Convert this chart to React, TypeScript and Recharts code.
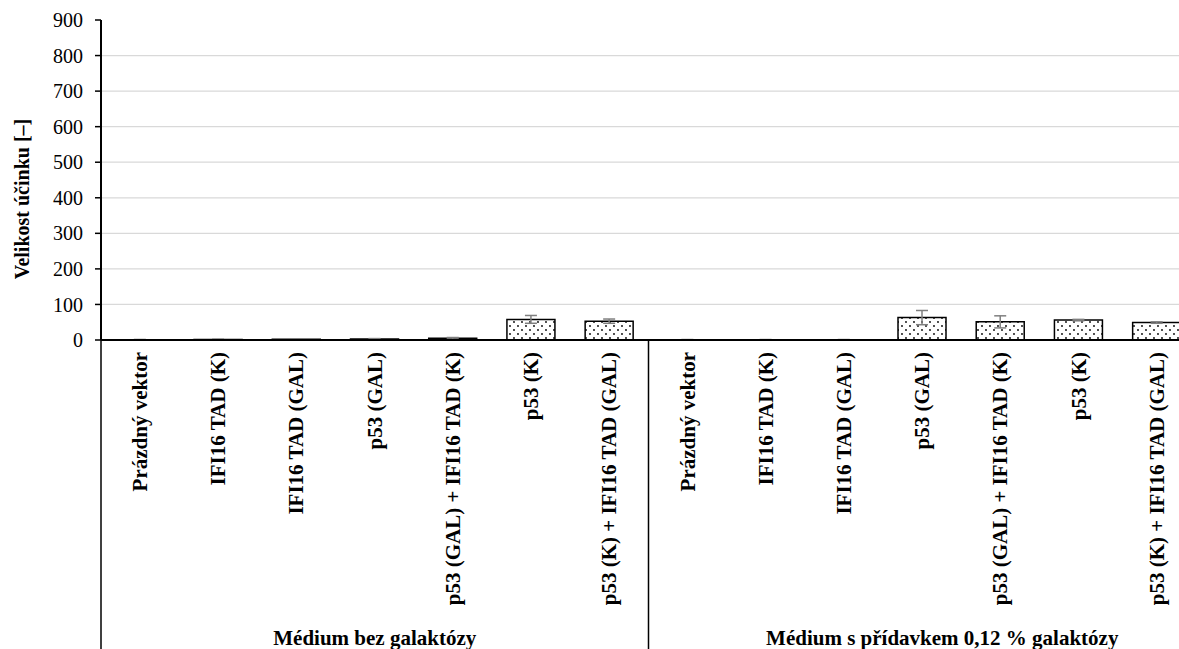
import React from 'react';
import { BarChart, Bar, XAxis, YAxis, CartesianGrid, ErrorBar } from 'recharts';

const categories = [
  'Prázdný vektor', 'IFI16 TAD (K)', 'IFI16 TAD (GAL)', 'p53 (GAL)',
  'p53 (GAL) + IFI16 TAD (K)', 'p53 (K)', 'p53 (K) + IFI16 TAD (GAL)',
  'Prázdný vektor', 'IFI16 TAD (K)', 'IFI16 TAD (GAL)', 'p53 (GAL)',
  'p53 (GAL) + IFI16 TAD (K)', 'p53 (K)', 'p53 (K) + IFI16 TAD (GAL)',
];
const groups = [
  'Médium bez galaktózy', 'Médium bez galaktózy', 'Médium bez galaktózy', 'Médium bez galaktózy',
  'Médium bez galaktózy', 'Médium bez galaktózy', 'Médium bez galaktózy',
  'Médium s přídavkem 0,12 % galaktózy', 'Médium s přídavkem 0,12 % galaktózy',
  'Médium s přídavkem 0,12 % galaktózy', 'Médium s přídavkem 0,12 % galaktózy',
  'Médium s přídavkem 0,12 % galaktózy', 'Médium s přídavkem 0,12 % galaktózy',
  'Médium s přídavkem 0,12 % galaktózy',
];
const values = [1, 1.5, 2, 3, 5, 58, 53, 1, 1, 1, 63, 51, 56, 49];
const errors = [0.5, 0.5, 0.5, 1, 2, 11, 6, 0.3, 0.3, 0.3, 20, 17, 2, 2];
const yTicks = [0, 100, 200, 300, 400, 500, 600, 700, 800, 900];
const gridValues = [100, 200, 300, 400, 500, 600, 700, 800];
const yLabel = 'Velikost účinku [–]';

const data = categories.map((c, i) => ({
  key: `c${i}`,
  name: c,
  group: groups[i],
  value: values[i],
  err: errors[i],
}));

const FONT = 'Liberation Serif';
const GROUP_LABEL_DX = [0, 20];

const CategoryTick = (props: any) => {
  const { x, y, payload, index } = props;
  const half = payload && payload.offset ? payload.offset : 39.1;
  const label = categories[index];
  const isGroupStart = index === 0 || index === 7;
  return (
    <g>
      {isGroupStart && (
        <line x1={x - half} y1={y} x2={x - half} y2={y + 400} stroke="#000" strokeWidth={1.5} />
      )}
      <text
        transform={`translate(${x},${y + 12}) rotate(-90)`}
        textAnchor="end"
        dy="0.33em"
        fontFamily={FONT}
        fontWeight="bold"
        fontSize={21}
        fill="#000"
      >
        {label}
      </text>
    </g>
  );
};

const GroupTick = (props: any) => {
  const { x, y, payload, index } = props;
  return (
    <text
      x={x + (GROUP_LABEL_DX[index] || 0)}
      y={y + 15}
      textAnchor="middle"
      fontFamily={FONT}
      fontWeight="bold"
      fontSize={21}
      fill="#000"
    >
      {payload.value}
    </text>
  );
};

const YLabel = (props: any) => {
  const { viewBox } = props;
  const cx = viewBox.x + 29;
  const cy = viewBox.y + viewBox.height / 2 + 19;
  return (
    <text
      transform={`translate(${cx},${cy}) rotate(-90)`}
      textAnchor="middle"
      fontFamily={FONT}
      fontWeight="bold"
      fontSize={20}
      fill="#000"
    >
      {yLabel}
    </text>
  );
};

export default function App() {
  return (
    <div style={{ position: 'absolute', left: 0, top: 0, width: 1179, height: 649, overflow: 'hidden', background: '#fff' }}>
      <BarChart
        width={1210}
        height={665}
        data={data}
        margin={{ top: 20, right: 14, bottom: 0, left: 0 }}
        barCategoryGap="19%"
      >
        <defs>
          <pattern id="dots" width="8" height="8" patternUnits="userSpaceOnUse">
            <rect width="8" height="8" fill="#fff" />
            <circle cx="2" cy="2" r="0.9" fill="#000" />
            <circle cx="6" cy="6" r="0.9" fill="#000" />
          </pattern>
        </defs>
        <CartesianGrid vertical={false} horizontalValues={gridValues} stroke="#d9d9d9" strokeWidth={1.3} />
        <XAxis
          dataKey="key"
          xAxisId="cat"
          height={290}
          interval={0}
          tickLine={false}
          tickSize={0}
          tickMargin={0}
          axisLine={{ stroke: '#000', strokeWidth: 2 }}
          tick={<CategoryTick />}
        />
        <XAxis
          dataKey="group"
          xAxisId="grp"
          allowDuplicatedCategory={false}
          height={35}
          interval={0}
          tickLine={false}
          tickSize={0}
          tickMargin={0}
          axisLine={false}
          tick={<GroupTick />}
        />
        <YAxis
          width={101}
          domain={[0, 900]}
          ticks={yTicks}
          interval={0}
          tickSize={6}
          tickMargin={12}
          tickLine={{ stroke: '#000', strokeWidth: 1.5 }}
          axisLine={{ stroke: '#000', strokeWidth: 2 }}
          tick={{ fontFamily: FONT, fontSize: 20, fill: '#000' }}
          label={<YLabel />}
        />
        <Bar
          dataKey="value"
          xAxisId="cat"
          fill="url(#dots)"
          stroke="#000"
          strokeWidth={1.5}
          isAnimationActive={false}
        >
          <ErrorBar dataKey="err" width={6} stroke="#7f7f7f" strokeWidth={1.5} />
        </Bar>
      </BarChart>
    </div>
  );
}
